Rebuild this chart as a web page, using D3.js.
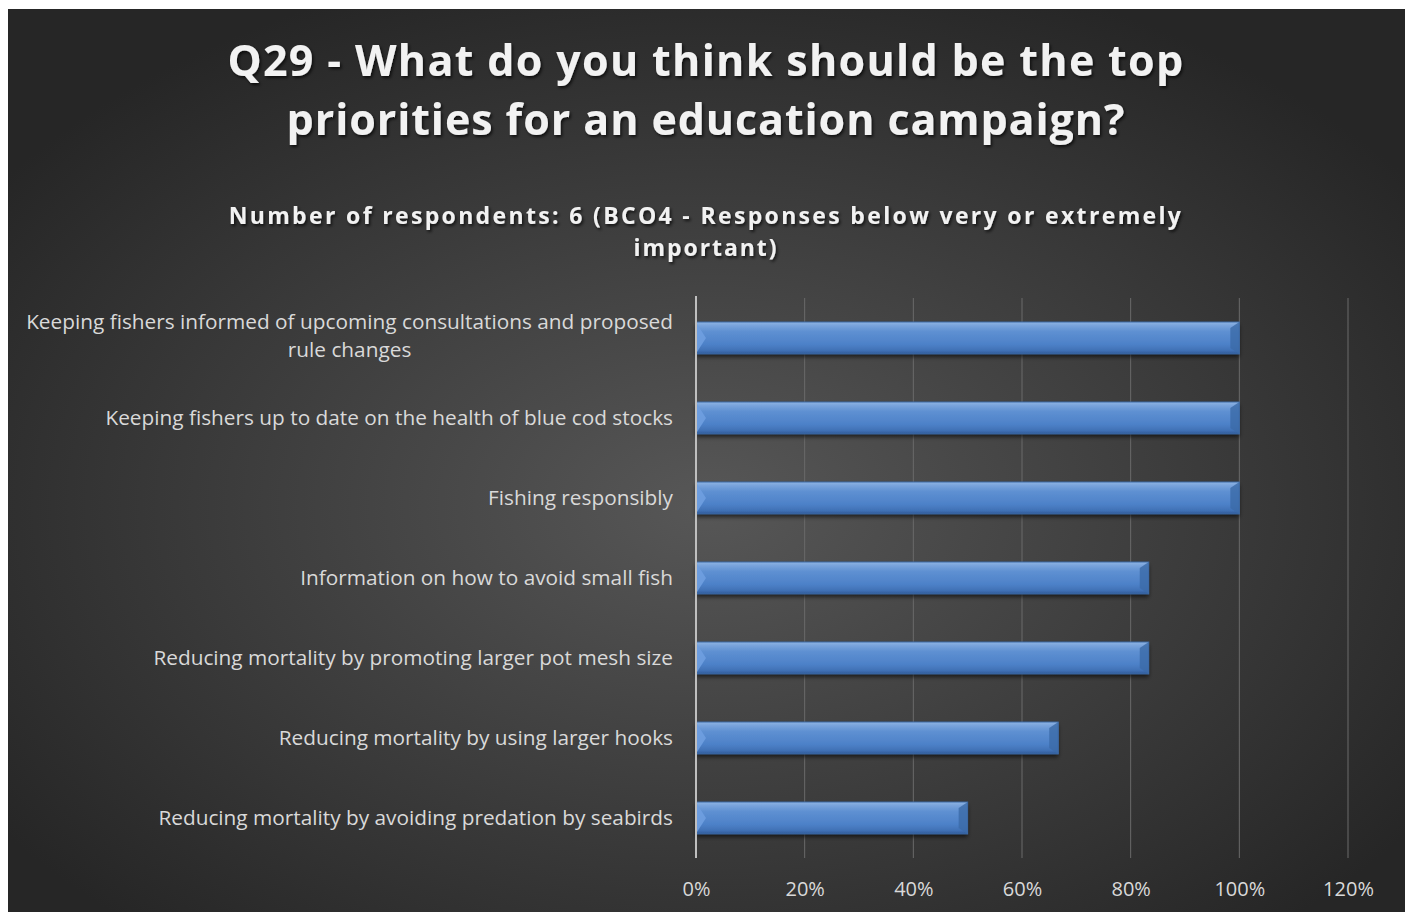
<!DOCTYPE html>
<html><head><meta charset="utf-8">
<script src="https://cdn.jsdelivr.net/npm/d3@7/dist/d3.min.js"></script>
<style>html,body{margin:0;padding:0;background:#fff;}svg{display:block;}</style>
</head><body>
<script>
const titleLines = ["Q29 - What do you think should be the top", "priorities for an education campaign?"];
const subtitleLines = ["Number of respondents: 6 (BCO4 - Responses below very or extremely", "important)"];
const categories = [
  ["Keeping fishers informed of upcoming consultations and proposed", "rule changes"],
  ["Keeping fishers up to date on the health of blue cod stocks"],
  ["Fishing responsibly"],
  ["Information on how to avoid small fish"],
  ["Reducing mortality by promoting larger pot mesh size"],
  ["Reducing mortality by using larger hooks"],
  ["Reducing mortality by avoiding predation by seabirds"]
];
const values = [1, 1, 1, 0.8333, 0.8333, 0.6667, 0.5];
const ticks = [0, 0.2, 0.4, 0.6, 0.8, 1.0, 1.2];

const W = 1410, H = 912;
const svg = d3.select("body").append("svg").attr("width", W).attr("height", H);
const defs = svg.append("defs");
const bg = defs.append("radialGradient").attr("id","bg").attr("cx","0.5").attr("cy","0.55").attr("r","0.62");
bg.append("stop").attr("offset","0").attr("stop-color","#575757");
bg.append("stop").attr("offset","1").attr("stop-color","#262626");
const bar = defs.append("linearGradient").attr("id","bar").attr("x1",0).attr("y1",0).attr("x2",0).attr("y2",1);
[[0,"#8fb4e3"],[0.12,"#77a2db"],[0.3,"#5e90d2"],[0.7,"#4d81c8"],[0.9,"#3f70b4"],[1,"#2f5a96"]].forEach(s=>bar.append("stop").attr("offset",s[0]).attr("stop-color",s[1]));
const sh = defs.append("filter").attr("id","tsh").attr("x","-5%").attr("y","-20%").attr("width","110%").attr("height","150%");
sh.append("feDropShadow").attr("dx",1.5).attr("dy",2).attr("stdDeviation",1.5).attr("flood-color","#000").attr("flood-opacity",0.7);
const bsh = defs.append("filter").attr("id","bsh").attr("x","-5%").attr("y","-20%").attr("width","110%").attr("height","160%");
bsh.append("feDropShadow").attr("dx",0).attr("dy",3).attr("stdDeviation",2).attr("flood-color","#000").attr("flood-opacity",0.6);

svg.append("rect").attr("x",8).attr("y",9).attr("width",1397).attr("height",903).attr("fill","url(#bg)");

function fitText(sel, target){
  const n = sel.text().length;
  const w = sel.node().getComputedTextLength();
  sel.attr("letter-spacing", ((target - w) / (n - 1)).toFixed(2));
}

const cx = 706;
const tW = [956, 838];
titleLines.forEach((t,i)=>{
  const s = svg.append("text").attr("x",cx).attr("y",76 + i*59).attr("text-anchor","middle")
    .attr("font-family","Open Sans").attr("font-weight",700).attr("font-size",43).attr("fill","#f2f2f2")
    .attr("filter","url(#tsh)").text(t);
  fitText(s, tW[i]);
});
const sW = [952, 143];
subtitleLines.forEach((t,i)=>{
  const s = svg.append("text").attr("x",cx).attr("y",224 + i*32).attr("text-anchor","middle")
    .attr("font-family","Open Sans").attr("font-weight",700).attr("font-size",23).attr("fill","#f2f2f2")
    .attr("filter","url(#tsh)").text(t);
  fitText(s, sW[i]);
});

const x = d3.scaleLinear().domain([0, 1.2]).range([696, 1348]);
const y = d3.scaleBand().domain(d3.range(categories.length)).range([298, 858]).paddingInner(0.6).paddingOuter(0.3);

const g = svg.append("g");
g.selectAll("line.grid").data(ticks.slice(1)).join("line").attr("class","grid")
  .attr("x1",d=>x(d)).attr("x2",d=>x(d)).attr("y1",298).attr("y2",858)
  .attr("stroke","#6a6a6a").attr("stroke-width",1);

const bars = g.selectAll("g.bar").data(values).join("g").attr("class","bar");
bars.append("rect").attr("x",x(0)).attr("y",(d,i)=>y(i)).attr("width",d=>x(d)-x(0)).attr("height",y.bandwidth())
  .attr("fill","url(#bar)").attr("filter","url(#bsh)");
bars.append("path").attr("d",(d,i)=>{const y0=y(i),h=y.bandwidth(),x0=x(0)+1;return `M${x0},${y0+2}L${x0+9},${y0+h/2}L${x0},${y0+h-2}Z`;})
  .attr("fill","#6f9fe0").attr("opacity",0.9);
bars.append("path").attr("d",(d,i)=>{const y0=y(i),h=y.bandwidth(),x1=x(d);return `M${x1},${y0}L${x1-9},${y0+6}L${x1-9},${y0+h-6}L${x1},${y0+h}Z`;})
  .attr("fill","#3b6aa8").attr("opacity",0.8);
bars.append("rect").attr("x",x(0)).attr("y",(d,i)=>y(i)).attr("width",d=>x(d)-x(0)).attr("height",y.bandwidth())
  .attr("fill","none").attr("stroke","#3d6aa6").attr("stroke-width",1);

g.append("line").attr("x1",x(0)).attr("x2",x(0)).attr("y1",296).attr("y2",858).attr("stroke","#bfbfbf").attr("stroke-width",2);

const xAxis = d3.axisBottom(x).tickValues(ticks).tickFormat(d3.format(".0%")).tickSize(0).tickPadding(0);
const ax = svg.append("g").attr("transform","translate(0,882)").call(xAxis);
ax.select(".domain").remove();
ax.selectAll("text").attr("font-family","Open Sans").attr("font-size",20).attr("fill","#d9d9d9").attr("dy","0.71em");

const lab = svg.append("g");
const labFont = 20.8;
categories.forEach((lines,i)=>{
  const cy = y(i) + y.bandwidth()/2;
  const n = lines.length;
  const texts = lines.map((l,j)=>lab.append("text").attr("y", cy + (j - (n-1)/2)*28 - (n>1?2:0)).attr("dy","0.35em")
      .attr("text-anchor","middle").attr("font-family","Open Sans").attr("font-size",labFont).attr("fill","#d9d9d9").text(l));
  const maxW = d3.max(texts, t=>t.node().getComputedTextLength());
  texts.forEach(t=>t.attr("x", 673 - maxW/2));
});
</script>
</body></html>
